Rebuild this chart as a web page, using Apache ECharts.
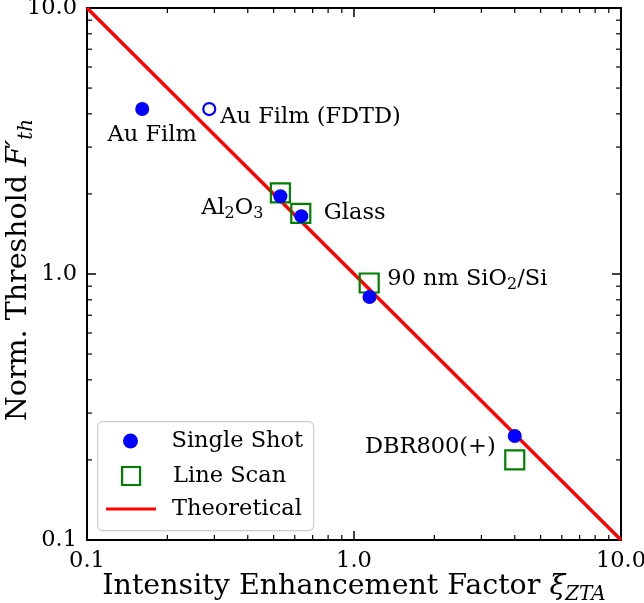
<!DOCTYPE html>
<html><head><meta charset="utf-8">
<script src="https://cdn.jsdelivr.net/npm/echarts@6/dist/echarts.min.js"></script>
<style>html,body{margin:0;padding:0;background:#fff}#c{width:644px;height:603px}</style>
</head><body><div id="c"></div>
<script>
// ---- data ----
const singleNames = ['Au Film', 'Al2O3', 'Glass', '90 nm', 'DBR800(+)'];
const singleX = [0.161, 0.530, 0.635, 1.143, 4.0];
const singleY = [4.17, 1.96, 1.65, 0.82, 0.246];
const fdtdX = [0.287];
const fdtdY = [4.17];
const scanNames = ['Al2O3', 'Glass', '90 nm', 'DBR800(+)'];
const scanX = [0.530, 0.632, 1.14, 4.0];
const scanY = [2.02, 1.69, 0.925, 0.20];
const theoryX = [0.1, 10];
const theoryY = [10, 0.1];
const axisMin = 0.1, axisMax = 10;
const minorTicks = [0.2,0.3,0.4,0.5,0.6,0.7,0.8,0.9,2,3,4,5,6,7,8,9];
const legendNames = ['Single Shot', 'Line Scan', 'Theoretical'];

const FONT = 'DejaVu Serif';
const fs = 22.5;
const rich = {
  n: {fontFamily: FONT, fontSize: fs, color: '#000', lineHeight: 28},
  s: {fontFamily: FONT, fontSize: 16, color: '#000', verticalAlign: 'bottom', lineHeight: 17},
  it: {fontFamily: FONT, fontSize: 28.5, fontStyle: 'italic', color: '#000', lineHeight: 36},
  its: {fontFamily: FONT, fontSize: 20, fontStyle: 'italic', color: '#000', verticalAlign: 'bottom', lineHeight: 21},
  t: {fontFamily: FONT, fontSize: 28.5, color: '#000', lineHeight: 36}
};

function lbl(text, align, offset) {
  return {show: true, position: 'inside', align: align, verticalAlign: 'middle', offset: offset,
          formatter: text, rich: rich, color: '#000', fontFamily: FONT, fontSize: fs};
}

const singleLabels = [
  lbl('{n|Au Film}', 'center', [10, 26]),
  lbl('{n|Al}{s|2}{n|O}{s|3}', 'right', [-17, 12]),
  null, null,
  lbl('{n|DBR800(+)}', 'right', [-19, 11])
];
const scanLabels = [
  null,
  lbl('{n|Glass}', 'left', [23, 0]),
  lbl('{n|90 nm SiO}{s|2}{n|/Si}', 'left', [18, -4]),
  null
];

function minorX(params, api) {
  const cs = params.coordSys;
  const px = api.coord([api.value(0), 1])[0];
  return {type: 'group', children: [
    {type: 'line', shape: {x1: px, y1: cs.y + cs.height, x2: px, y2: cs.y + cs.height - 5}, style: {stroke: '#000', lineWidth: 1.2}},
    {type: 'line', shape: {x1: px, y1: cs.y, x2: px, y2: cs.y + 5}, style: {stroke: '#000', lineWidth: 1.2}}
  ]};
}
function minorY(params, api) {
  const cs = params.coordSys;
  const py = api.coord([1, api.value(0)])[1];
  return {type: 'group', children: [
    {type: 'line', shape: {x1: cs.x, y1: py, x2: cs.x + 5, y2: py}, style: {stroke: '#000', lineWidth: 1.2}},
    {type: 'line', shape: {x1: cs.x + cs.width, y1: py, x2: cs.x + cs.width - 5, y2: py}, style: {stroke: '#000', lineWidth: 1.2}}
  ]};
}

const baseAxis = {
  type: 'log', logBase: 10, min: axisMin, max: axisMax,
  axisLine: {show: true, onZero: false, lineStyle: {color: '#000', width: 2}},
  axisTick: {show: true, inside: true, length: 9, lineStyle: {color: '#000', width: 1.5}},
  splitLine: {show: false}
};

const legendText = {fontFamily: FONT, fontSize: fs, color: '#000', lineHeight: 24};
const legendCommon = {show: true, orient: 'vertical', selectedMode: false, padding: 0, textStyle: legendText};

const chart = echarts.init(document.getElementById('c'), null, {renderer: 'canvas'});
chart.setOption({
  animation: false,
  backgroundColor: '#fff',
  grid: {left: 87, right: 23, top: 8, bottom: 63, containLabel: false, outerBoundsMode: 'none'},
  xAxis: [
    Object.assign({}, baseAxis, {
      position: 'bottom',
      axisLabel: {show: true, margin: 10, fontFamily: FONT, fontSize: fs, color: '#000',
        formatter: v => v.toFixed(1), showMinLabel: true, showMaxLabel: true},
      name: '{t|Intensity Enhancement Factor }{it|ξ}{its|ZTA}',
      nameLocation: 'middle', nameGap: 29, nameMoveOverlap: false,
      nameTextStyle: {rich: rich}
    }),
    Object.assign({}, baseAxis, {position: 'top', axisLabel: {show: false}})
  ],
  yAxis: [
    Object.assign({}, baseAxis, {
      position: 'left',
      axisLabel: {show: true, margin: 10, fontFamily: FONT, fontSize: fs, color: '#000', padding: [7, 0, 0, 0],
        formatter: v => v.toFixed(1), showMinLabel: true, showMaxLabel: true},
      name: '{t|Norm. Threshold }{it|F′}{its|th}',
      nameLocation: 'middle', nameGap: 50, nameRotate: 90, nameMoveOverlap: false,
      nameTextStyle: {rich: rich, padding: [0, 0, 0, 8]}
    }),
    Object.assign({}, baseAxis, {position: 'right', axisLabel: {show: false}})
  ],
  graphic: [{
    type: 'rect', left: 97, top: 421, z: 3,
    shape: {width: 216, height: 109, r: 5},
    style: {fill: 'rgba(255,255,255,0.8)', stroke: '#cccccc', lineWidth: 1.2}
  }],
  legend: [
    Object.assign({}, legendCommon, {
      left: 123, top: 429, data: [{name: legendNames[0], icon: 'circle'}],
      itemWidth: 50, itemHeight: 15,
      textStyle: Object.assign({}, legendText, {padding: [0, 0, 0, 11]})
    }),
    Object.assign({}, legendCommon, {
      left: 121, top: 464, data: [{name: legendNames[1], icon: 'rect'}],
      itemWidth: 18, itemHeight: 18,
      itemStyle: {color: 'rgba(255,255,255,0)', borderColor: '#008000', borderWidth: 2.2},
      textStyle: Object.assign({}, legendText, {padding: [0, 0, 0, 28]})
    }),
    Object.assign({}, legendCommon, {
      left: 106, top: 497, data: [{name: legendNames[2], icon: 'rect'}],
      itemWidth: 50, itemHeight: 3,
      itemStyle: {color: '#ff0000', borderWidth: 0},
      textStyle: Object.assign({}, legendText, {padding: [0, 0, 0, 11]})
    })
  ],
  series: [
    {
      name: 'Theoretical', type: 'line', xAxisIndex: 0, yAxisIndex: 0,
      data: theoryX.map((x, i) => [x, theoryY[i]]),
      symbol: 'none', lineStyle: {color: '#ff0000', width: 3.4}, itemStyle: {color: '#ff0000'}, z: 2
    },
    {
      name: 'Line Scan', type: 'scatter', xAxisIndex: 0, yAxisIndex: 0,
      data: scanX.map((x, i) => {
        const d = {name: scanNames[i], value: [x, scanY[i]]};
        if (scanLabels[i]) d.label = scanLabels[i];
        return d;
      }),
      symbol: 'rect', symbolSize: 19,
      itemStyle: {color: 'rgba(255,255,255,0)', borderColor: '#008000', borderWidth: 2.2, opacity: 1},
      z: 3
    },
    {
      name: 'Single Shot', type: 'scatter', xAxisIndex: 0, yAxisIndex: 0,
      data: singleX.map((x, i) => {
        const d = {name: singleNames[i], value: [x, singleY[i]]};
        if (singleLabels[i]) d.label = singleLabels[i];
        return d;
      }),
      symbol: 'circle', symbolSize: 14,
      itemStyle: {color: '#0000ff', opacity: 1}, z: 4
    },
    {
      name: 'Au Film (FDTD)', type: 'scatter', xAxisIndex: 0, yAxisIndex: 0,
      data: fdtdX.map((x, i) => ({value: [x, fdtdY[i]], label: lbl('{n|Au Film (FDTD)}', 'left', [11, 8])})),
      symbol: 'circle', symbolSize: 12,
      itemStyle: {color: '#ffffff', borderColor: '#0000ff', borderWidth: 2.2, opacity: 1}, z: 4
    },
    {
      type: 'custom', xAxisIndex: 0, yAxisIndex: 0, renderItem: minorX,
      data: minorTicks.map(v => [v]), encode: {x: 0}, silent: true, z: 5, clip: false
    },
    {
      type: 'custom', xAxisIndex: 0, yAxisIndex: 0, renderItem: minorY,
      data: minorTicks.map(v => [v]), encode: {y: 0}, silent: true, z: 5, clip: false
    }
  ]
});
</script></body></html>
